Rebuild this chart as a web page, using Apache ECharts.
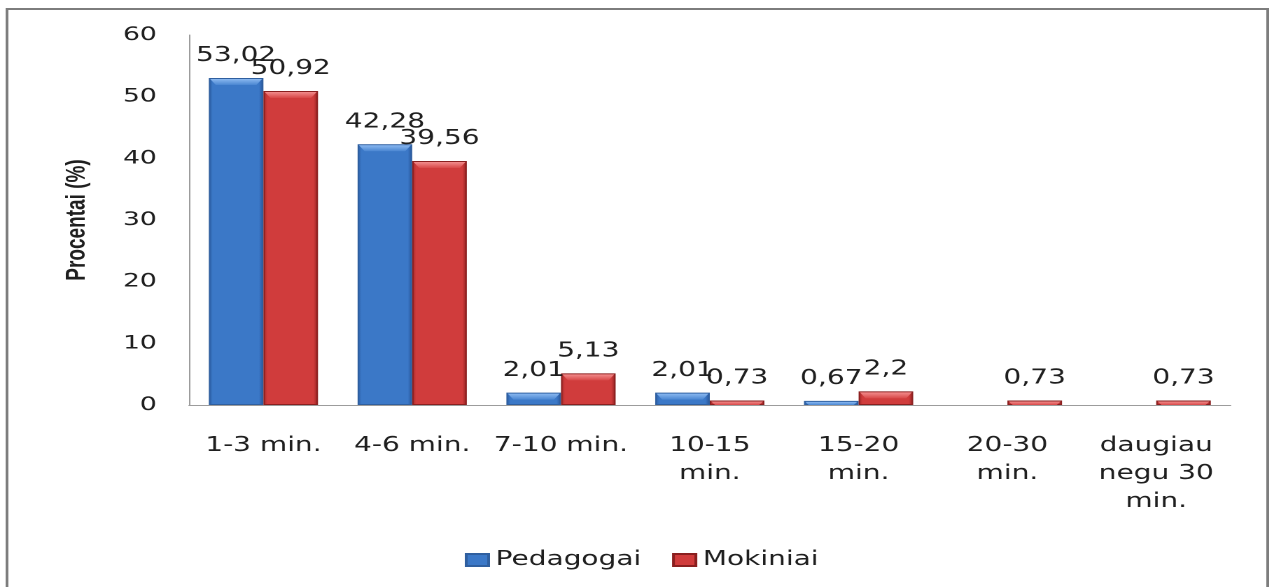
<!DOCTYPE html>
<html>
<head>
<meta charset="utf-8">
<script src="https://cdn.jsdelivr.net/npm/echarts@6/dist/echarts.min.js"></script>
<style>
  html, body { margin: 0; padding: 0; background: #ffffff; overflow: hidden; }
  /* the chart is laid out in a narrower box and widened horizontally */
  #chart { width: 909.3px; height: 587px; transform: scaleX(1.4); transform-origin: 0 0; }
</style>
</head>
<body>
<div id="chart"></div>
<script>
// categories (time spent), already split onto lines as printed under the axis
const categories = ['1-3 min.', '4-6 min.', '7-10 min.', '10-15\nmin.', '15-20\nmin.', '20-30\nmin.', 'daugiau\nnegu 30\nmin.'];
// percentages for each group
const pedagogai = [53.02, 42.28, 2.01, 2.01, 0.67, null, null];
const mokiniai = [50.92, 39.56, 5.13, 0.73, 2.2, 0.73, 0.73];
// value axis ticks
const yMin = 0, yMax = 60, yStep = 10;

const FONT = 'DejaVu Sans';
const TEXT = '#1f1f1f';
const CATEGORY_GAP = 0.266;

function barFill(edgeL, mid, edgeR) {
  return {
    type: 'linear', x: 0, y: 0, x2: 1, y2: 0,
    colorStops: [
      { offset: 0, color: edgeL },
      { offset: 0.07, color: mid },
      { offset: 0.5, color: mid },
      { offset: 0.92, color: mid },
      { offset: 1, color: edgeR }
    ]
  };
}

const valueLabel = {
  show: true,
  position: 'top',
  distance: 12,
  fontFamily: FONT,
  fontSize: 20,
  color: TEXT,
  formatter: p => (p.value == null ? '' : String(p.value).replace('.', ','))
};

// light bevel on top of each bar, placed with the same category scale as the bars
function bevel(slot, light, mid) {
  return function (params, api) {
    const v = api.value(1);
    if (v == null || isNaN(v)) return null;
    const top = api.coord([api.value(0), v]);
    const base = api.coord([api.value(0), 0]);
    const catW = api.size([1, 0])[0];
    const barW = catW * (1 - CATEGORY_GAP) / 2;
    const x0 = top[0] - barW + slot * barW + 1;
    const x1 = x0 + barW - 2;
    const h = Math.min(6, Math.max(0, base[1] - top[1] - 1));
    const inset = Math.min(4, h * 0.8);
    const y0 = top[1] + 1;
    return {
      type: 'polygon',
      shape: { points: [[x0, y0], [x1, y0], [x1 - inset, y0 + h], [x0 + inset, y0 + h]] },
      style: {
        fill: { type: 'linear', x: 0, y: 0, x2: 0, y2: 1, colorStops: [{ offset: 0, color: light }, { offset: 1, color: mid }] }
      },
      silent: true
    };
  };
}

const chart = echarts.init(document.getElementById('chart'), null, { renderer: 'canvas', devicePixelRatio: 2 });
chart.setOption({
  animation: false,
  backgroundColor: '#ffffff',
  graphic: [{
    type: 'rect',
    shape: { x: 5, y: 9, width: 900.5, height: 620 },
    style: { fill: 'none', stroke: '#7d7d7d', lineWidth: 2 },
    silent: true
  }],
  grid: { left: 135, right: 30, top: 35, bottom: 182, containLabel: false },
  legend: {
    data: ['Pedagogai', 'Mokiniai'],
    left: 327,
    top: 545,
    itemWidth: 16,
    itemHeight: 12,
    itemGap: 22,
    icon: 'rect',
    textStyle: { fontFamily: FONT, fontSize: 20, color: TEXT }
  },
  xAxis: {
    type: 'category',
    data: categories,
    axisLine: { show: true, lineStyle: { color: '#9c9c9c', width: 1 } },
    axisTick: { show: false },
    axisLabel: {
      interval: 0,
      margin: 27,
      fontFamily: FONT,
      fontSize: 20,
      lineHeight: 28,
      color: TEXT,
      align: 'center'
    }
  },
  yAxis: {
    type: 'value',
    min: yMin,
    max: yMax,
    interval: yStep,
    name: 'Procentai (%)',
    nameLocation: 'middle',
    nameGap: 70,
    nameRotate: 90,
    nameTextStyle: { fontFamily: 'Liberation Sans', fontSize: 19, fontWeight: 'bold', color: TEXT },
    axisLine: { show: true, lineStyle: { color: '#9c9c9c', width: 1 } },
    axisTick: { show: false },
    splitLine: { show: false },
    axisLabel: { margin: 23, fontFamily: FONT, fontSize: 19, color: TEXT }
  },
  series: [
    {
      name: 'Pedagogai',
      type: 'bar',
      data: pedagogai,
      barGap: '0%',
      barCategoryGap: (CATEGORY_GAP * 100) + '%',
      itemStyle: {
        color: barFill('#2a5a9e', '#3b78c7', '#285497'),
        borderColor: '#2f5f9f',
        borderWidth: 1
      },
      label: valueLabel
    },
    {
      name: 'Mokiniai',
      type: 'bar',
      data: mokiniai,
      itemStyle: {
        color: barFill('#a02828', '#d03c3c', '#8e2020'),
        borderColor: '#8a1f1f',
        borderWidth: 1
      },
      label: valueLabel
    },
    {
      name: 'Pedagogai bevel',
      type: 'custom',
      data: pedagogai.map((v, i) => [i, v]),
      renderItem: bevel(0, '#8ab8f0', '#4a86d2'),
      z: 3,
      silent: true,
      tooltip: { show: false }
    },
    {
      name: 'Mokiniai bevel',
      type: 'custom',
      data: mokiniai.map((v, i) => [i, v]),
      renderItem: bevel(1, '#f28c8c', '#d84848'),
      z: 3,
      silent: true,
      tooltip: { show: false }
    }
  ]
});
</script>
</body>
</html>
